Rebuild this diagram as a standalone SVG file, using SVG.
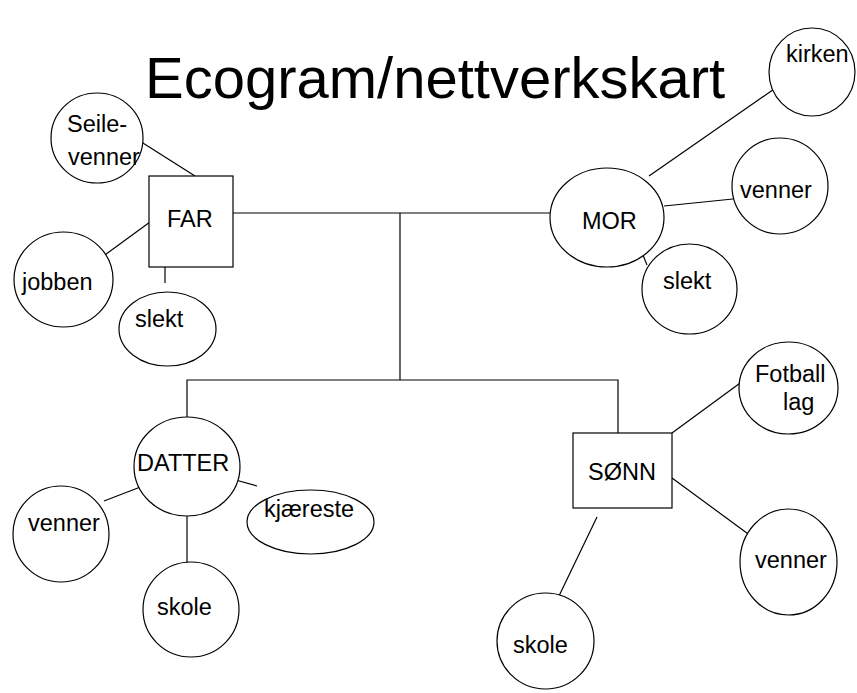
<svg xmlns="http://www.w3.org/2000/svg" width="857" height="693" viewBox="0 0 857 693">
<style>
.n{fill:#fff;stroke:#000;stroke-width:1.2}
.c{fill:none;stroke:#000;stroke-width:1.2}
text{font-family:"Liberation Sans",Arial,sans-serif;font-size:23.5px;fill:#000}
.t{font-size:58px}
</style>
<rect width="857" height="693" fill="#fff"/>
<text class="t" x="145" y="98">Ecogram/nettverkskart</text>
<g id="connectors">
<path class="c" d="M233 213H558"/>
<path class="c" d="M400 213V380"/>
<path class="c" d="M187 417V380H618V433"/>
<path class="c" d="M135 138L195 176"/>
<path class="c" d="M98 260L150 222"/>
<path class="c" d="M165 267V283"/>
<path class="c" d="M777 87L649 176"/>
<path class="c" d="M664 206L733 199"/>
<path class="c" d="M641 250L647 265"/>
<path class="c" d="M143 486L104 501"/>
<path class="c" d="M187 516V569"/>
<path class="c" d="M232 479L257 486"/>
<path class="c" d="M672 433L747 378"/>
<path class="c" d="M672 478L755 539"/>
<path class="c" d="M597 517L558 598"/>
</g>
<g id="seilevenner"><ellipse class="n" cx="97" cy="138" rx="46" ry="45"/><text x="67" y="132">Seile-</text><text x="68" y="165">venner</text></g>
<g id="far"><rect class="n" x="149" y="176" width="84" height="91"/><text x="167" y="227">FAR</text></g>
<g id="jobben"><ellipse class="n" cx="63.5" cy="279.5" rx="49.5" ry="47.5"/><text x="22" y="290">jobben</text></g>
<g id="far-slekt"><ellipse class="n" cx="167.5" cy="329" rx="48.5" ry="37"/><text x="135" y="327">slekt</text></g>
<g id="kirken"><ellipse class="n" cx="812" cy="72" rx="43" ry="44"/><text x="786" y="62">kirken</text></g>
<g id="mor"><ellipse class="n" cx="607" cy="217.5" rx="57" ry="49.5"/><text x="582" y="229">MOR</text></g>
<g id="mor-venner"><ellipse class="n" cx="780" cy="186" rx="48" ry="48"/><text x="740" y="198">venner</text></g>
<g id="mor-slekt"><ellipse class="n" cx="689.5" cy="289" rx="47.5" ry="45"/><text x="663" y="289">slekt</text></g>
<g id="datter"><ellipse class="n" cx="187" cy="466.5" rx="53" ry="49.5"/><text x="137" y="471">DATTER</text></g>
<g id="datter-venner"><ellipse class="n" cx="61" cy="534" rx="48" ry="48"/><text x="28" y="531">venner</text></g>
<g id="datter-skole"><ellipse class="n" cx="191" cy="609.5" rx="48" ry="47.5"/><text x="157" y="615">skole</text></g>
<g id="kjaereste"><ellipse class="n" cx="310.5" cy="522" rx="63.5" ry="32"/><text x="264" y="517">kjæreste</text></g>
<g id="sonn"><rect class="n" x="573" y="433" width="99" height="75"/><text x="588" y="480">SØNN</text></g>
<g id="fotball"><ellipse class="n" cx="788.5" cy="388" rx="49.5" ry="46"/><text x="755" y="382">Fotball</text><text x="783" y="410">lag</text></g>
<g id="sonn-venner"><ellipse class="n" cx="788.5" cy="562" rx="48.5" ry="53"/><text x="755" y="568">venner</text></g>
<g id="sonn-skole"><ellipse class="n" cx="545.5" cy="641" rx="48.5" ry="48"/><text x="513" y="653">skole</text></g>
</svg>
